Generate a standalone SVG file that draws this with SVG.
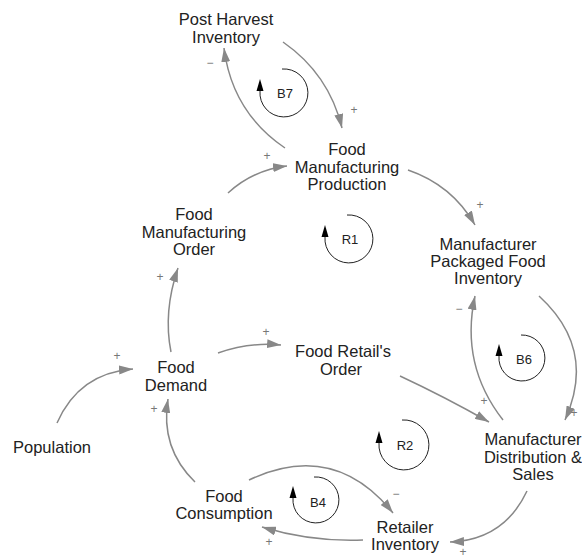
<svg xmlns="http://www.w3.org/2000/svg" width="582" height="558" viewBox="0 0 582 558">
<defs>
<marker id="ah" markerWidth="15" markerHeight="9" refX="14" refY="4.5" orient="auto" markerUnits="userSpaceOnUse">
<path d="M0,0 L14,4.5 L0,9 z" fill="#888"/>
</marker>
<style>
.n{font-family:"Liberation Sans",Arial,sans-serif;font-size:16.5px;fill:#222;text-anchor:middle}
.c{fill:none;stroke:#888;stroke-width:1.5;marker-end:url(#ah)}
.s{font-family:"Liberation Sans",Arial,sans-serif;font-size:12px;fill:#777;text-anchor:middle}
.la{fill:none;stroke:#222;stroke-width:1}
.lh{fill:#000}
.lt{font-family:"Liberation Sans",Arial,sans-serif;font-size:13px;fill:#222;text-anchor:middle}
</style>
</defs>
<rect width="582" height="558" fill="#fff"/>
<g id="connectors">
<path class="c" d="M283,42 Q329,74 342,128"/>
<path class="c" d="M285,148 Q232,112 224,48"/>
<path class="c" d="M228,193 Q253,170 287,166"/>
<path class="c" d="M408,170 Q452,185 475,225"/>
<path class="c" d="M539,296 Q597,349 565,420"/>
<path class="c" d="M503,420 Q460,365 475,296"/>
<path class="c" d="M171,352 Q163,312 178,268"/>
<path class="c" d="M218,353 Q250,342 281,345"/>
<path class="c" d="M400,376 Q445,397 489,422"/>
<path class="c" d="M527,491 Q504,540 450,542"/>
<path class="c" d="M249,480 Q334,440 393,513"/>
<path class="c" d="M363,540 Q311,542 262,527"/>
<path class="c" d="M195,482 Q160,448 168,399"/>
<path class="c" d="M57,423 Q79,373 133,369"/>
<text class="s" x="354" y="114">+</text>
<text class="s" x="210" y="67">−</text>
<text class="s" x="267" y="160">+</text>
<text class="s" x="480" y="209">+</text>
<text class="s" x="459" y="313">−</text>
<text class="s" x="574" y="417">+</text>
<text class="s" x="484" y="405">+</text>
<text class="s" x="463" y="556">+</text>
<text class="s" x="396" y="498">−</text>
<text class="s" x="269" y="546">+</text>
<text class="s" x="154" y="413">+</text>
<text class="s" x="117" y="360">+</text>
<text class="s" x="160" y="281">+</text>
<text class="s" x="266" y="336">+</text>
</g>
<g id="PostHarvestInventory"><text class="n" x="226" y="24.5">Post Harvest</text><text class="n" x="226" y="42.5">Inventory</text></g>
<g id="FoodManufacturingProduction"><text class="n" x="347" y="155">Food</text><text class="n" x="347" y="172.5">Manufacturing</text><text class="n" x="347" y="190">Production</text></g>
<g id="FoodManufacturingOrder"><text class="n" x="194" y="220">Food</text><text class="n" x="194" y="237.5">Manufacturing</text><text class="n" x="194" y="255">Order</text></g>
<g id="ManufacturerPackagedFoodInventory"><text class="n" x="488" y="250">Manufacturer</text><text class="n" x="488" y="267">Packaged Food</text><text class="n" x="488" y="284">Inventory</text></g>
<g id="FoodDemand"><text class="n" x="176" y="373">Food</text><text class="n" x="176" y="391">Demand</text></g>
<g id="FoodRetailsOrder"><text class="n" x="343" y="357">Food Retail's</text><text class="n" x="341" y="375">Order</text></g>
<g id="Population"><text class="n" x="52" y="453">Population</text></g>
<g id="ManufacturerDistributionSales"><text class="n" x="533" y="445">Manufacturer</text><text class="n" x="533" y="463">Distribution &amp;</text><text class="n" x="533" y="480">Sales</text></g>
<g id="FoodConsumption"><text class="n" x="224" y="502">Food</text><text class="n" x="224" y="519">Consumption</text></g>
<g id="RetailerInventory"><text class="n" x="405" y="533">Retailer</text><text class="n" x="405" y="550">Inventory</text></g>
<g id="loopB7"><path class="la" d="M282,69 A24,24 0 1 1 260,91"/><path class="lh" d="M260,79 L256.5,91 L263.5,91 z"/><text class="lt" x="285" y="98">B7</text></g>
<g id="loopR1"><path class="la" d="M347,215 A24,24 0 1 1 325,237"/><path class="lh" d="M325,225 L321.5,237 L328.5,237 z"/><text class="lt" x="350" y="244">R1</text></g>
<g id="loopB6"><path class="la" d="M521,335 A23,23 0 1 1 499,356"/><path class="lh" d="M499,344 L495.5,356 L502.5,356 z"/><text class="lt" x="524" y="364">B6</text></g>
<g id="loopR2"><path class="la" d="M402,420 A25,25 0 1 1 379,443"/><path class="lh" d="M379,431 L375.5,443 L382.5,443 z"/><text class="lt" x="405" y="450">R2</text></g>
<g id="loopB4"><path class="la" d="M314,477 A23,23 0 1 1 293,498"/><path class="lh" d="M293,486 L289.5,498 L296.5,498 z"/><text class="lt" x="318" y="507">B4</text></g>
</svg>
